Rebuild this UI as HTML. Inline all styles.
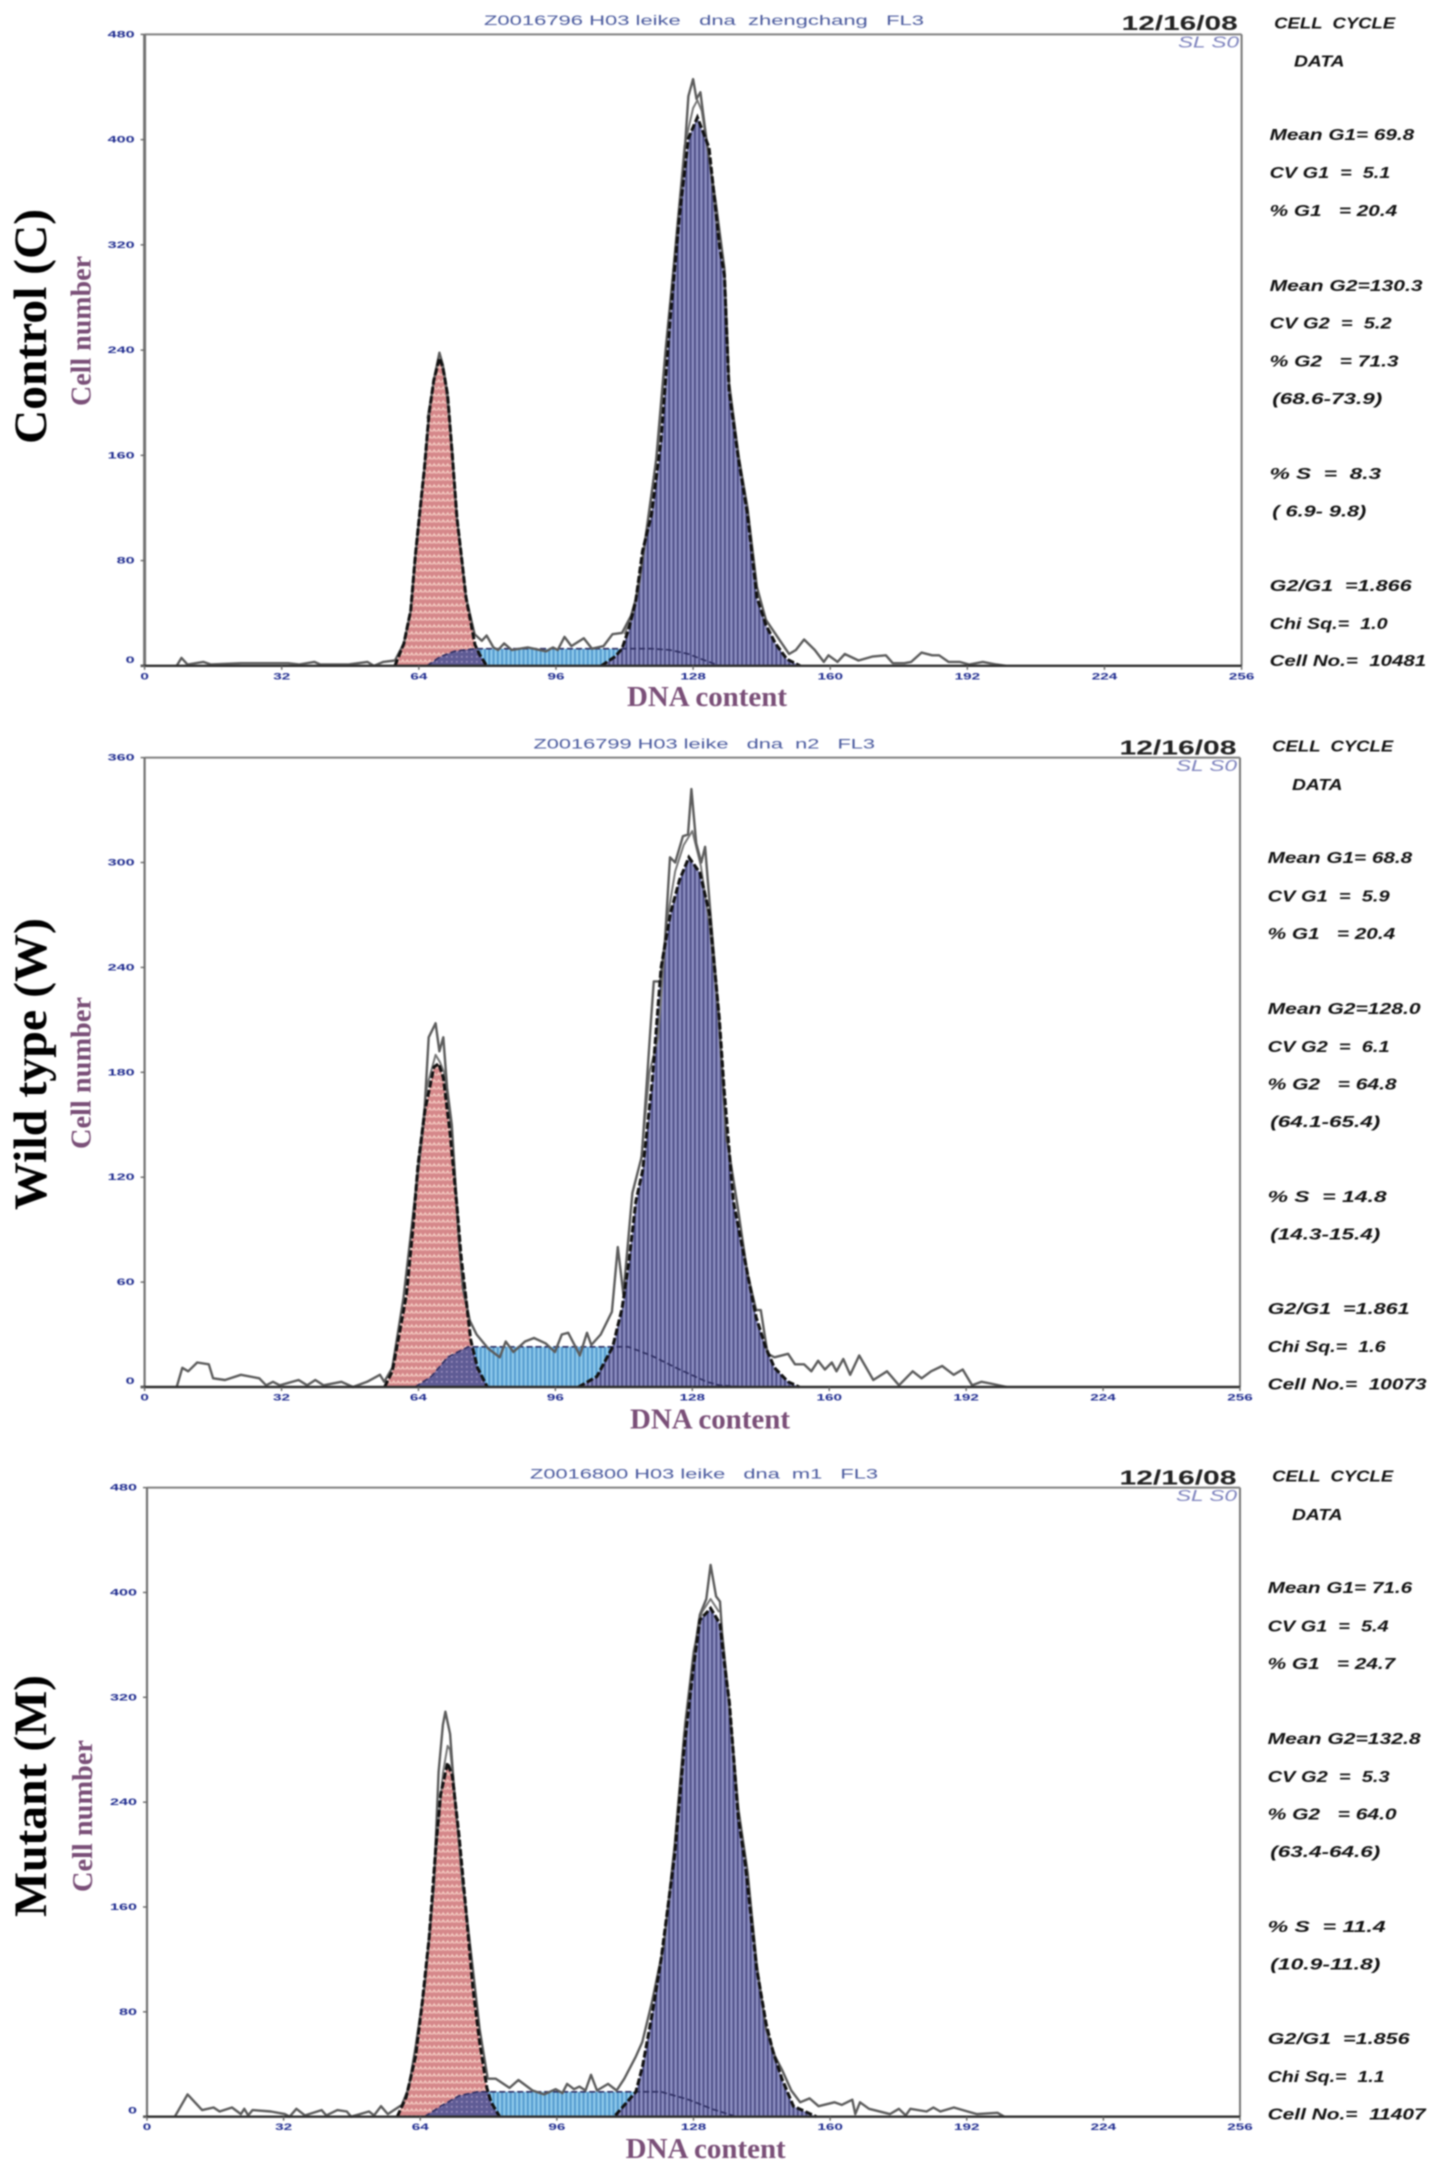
<!DOCTYPE html>
<html lang="en">
<head>
<meta charset="utf-8">
<title>Cell cycle DNA content histograms</title>
<style>
html,body{margin:0;padding:0;background:#fff;}
body{width:1441px;height:2170px;overflow:hidden;}
svg{display:block;filter:blur(0.75px);}
text{white-space:pre;}
.row-label{font:bold 47px "Liberation Serif",serif;fill:#000;text-anchor:middle;}
.axis-title{font:bold 28px "Liberation Serif",serif;fill:#7a4f78;text-anchor:middle;}
.plot-title{font:14px "Liberation Sans",sans-serif;fill:#4a5a9e;}
.date{font:bold 20px "Liberation Sans",sans-serif;fill:#222;}
.gate{font:italic 16px "Liberation Sans",sans-serif;fill:#7d82bd;}
.side{font:italic bold 15.5px "Liberation Sans",sans-serif;fill:#111;}
.tick{font:bold 9px "Liberation Sans",sans-serif;fill:#1e2b8f;}
</style>
</head>
<body>
<svg id="figure" xmlns="http://www.w3.org/2000/svg" width="1441" height="2170" viewBox="0 0 1441 2170">
<defs>
<pattern id="pink-hatch" patternUnits="userSpaceOnUse" width="9" height="7">
<rect width="9" height="7" fill="#d5878a"/>
<path d="M0.5 4.5 L2.2 2 L4 4.5 M5 4.5 L6.7 2 L8.5 4.5" stroke="#f3c9c0" stroke-width="1.5" fill="none"/>
</pattern>
<pattern id="blue-hatch" patternUnits="userSpaceOnUse" width="4.285" height="4">
<rect width="4.285" height="4" fill="#70b5e0"/>
<rect width="1.3" height="4" fill="#4f94ca"/>
<rect x="2.4" width="1.2" height="4" fill="#9dd3f0"/>
</pattern>
<pattern id="purple-hatch" patternUnits="userSpaceOnUse" width="4.285" height="4">
<rect width="4.285" height="4" fill="#7b7db3"/>
<rect width="1.4" height="4" fill="#45467e"/>
<rect x="2.5" width="1" height="4" fill="#9c9ecd"/>
</pattern>
<pattern id="overlap-hatch" patternUnits="userSpaceOnUse" width="5" height="5">
<rect width="5" height="5" fill="#5f5c95"/>
<rect x="1" y="1" width="1.6" height="1.6" fill="#a191c0"/>
</pattern>
</defs>

<g id="panel-control">
<text class="row-label" transform="translate(46,326.5) rotate(-90)" textLength="235" lengthAdjust="spacingAndGlyphs">Control (C)</text>
<text class="axis-title" transform="translate(90.5,331) rotate(-90)" textLength="150" lengthAdjust="spacingAndGlyphs">Cell number</text>
<text class="axis-title" x="707" y="706" textLength="160" lengthAdjust="spacingAndGlyphs">DNA content</text>
<text class="plot-title" x="484" y="25" textLength="440" lengthAdjust="spacingAndGlyphs">Z0016796 H03 leike   dna  zhengchang   FL3</text>
<text class="date" x="1121.7" y="30" textLength="116" lengthAdjust="spacingAndGlyphs">12/16/08</text>
<text class="gate" x="1178" y="47.7" textLength="61" lengthAdjust="spacingAndGlyphs">SL S0</text>
<g class="sidebar">
<text class="side" x="1274.2" y="28.5" textLength="121" lengthAdjust="spacingAndGlyphs">CELL  CYCLE</text>
<text class="side" x="1294" y="66.6" textLength="50.5" lengthAdjust="spacingAndGlyphs">DATA</text>
<text class="side" x="1269.6" y="140" textLength="144.6" lengthAdjust="spacingAndGlyphs">Mean G1= 69.8</text>
<text class="side" x="1269.6" y="178.1" textLength="120.7" lengthAdjust="spacingAndGlyphs">CV G1  =  5.1</text>
<text class="side" x="1269.6" y="215.8" textLength="127.6" lengthAdjust="spacingAndGlyphs">% G1   = 20.4</text>
<text class="side" x="1269.6" y="291" textLength="153" lengthAdjust="spacingAndGlyphs">Mean G2=130.3</text>
<text class="side" x="1269.6" y="328.7" textLength="122" lengthAdjust="spacingAndGlyphs">CV G2  =  5.2</text>
<text class="side" x="1269.6" y="366.4" textLength="129" lengthAdjust="spacingAndGlyphs">% G2   = 71.3</text>
<text class="side" x="1272.3" y="404" textLength="110" lengthAdjust="spacingAndGlyphs">(68.6-73.9)</text>
<text class="side" x="1269.6" y="478.9" textLength="111.6" lengthAdjust="spacingAndGlyphs">% S  =  8.3</text>
<text class="side" x="1272.3" y="516.5" textLength="94" lengthAdjust="spacingAndGlyphs">( 6.9- 9.8)</text>
<text class="side" x="1269.6" y="590.9" textLength="142" lengthAdjust="spacingAndGlyphs">G2/G1  =1.866</text>
<text class="side" x="1269.6" y="629" textLength="118" lengthAdjust="spacingAndGlyphs">Chi Sq.=  1.0</text>
<text class="side" x="1269.6" y="666.2" textLength="156.6" lengthAdjust="spacingAndGlyphs">Cell No.=  10481</text>
</g>
</g>

<g id="panel-wild">
<text class="row-label" transform="translate(46,1064) rotate(-90)" textLength="292" lengthAdjust="spacingAndGlyphs">Wild type (W)</text>
<text class="axis-title" transform="translate(90.5,1073) rotate(-90)" textLength="152" lengthAdjust="spacingAndGlyphs">Cell number</text>
<text class="axis-title" x="710" y="1428.5" textLength="160" lengthAdjust="spacingAndGlyphs">DNA content</text>
<text class="plot-title" x="533.5" y="748.5" textLength="341.5" lengthAdjust="spacingAndGlyphs">Z0016799 H03 leike   dna  n2   FL3</text>
<text class="date" x="1119.5" y="754.4" textLength="117" lengthAdjust="spacingAndGlyphs">12/16/08</text>
<text class="gate" x="1176" y="771" textLength="61" lengthAdjust="spacingAndGlyphs">SL S0</text>
<g transform="translate(-2,723.2)">
<text class="side" x="1274.2" y="28.5" textLength="121" lengthAdjust="spacingAndGlyphs">CELL  CYCLE</text>
<text class="side" x="1294" y="66.6" textLength="50.5" lengthAdjust="spacingAndGlyphs">DATA</text>
<text class="side" x="1269.6" y="140" textLength="144.6" lengthAdjust="spacingAndGlyphs">Mean G1= 68.8</text>
<text class="side" x="1269.6" y="178.1" textLength="122" lengthAdjust="spacingAndGlyphs">CV G1  =  5.9</text>
<text class="side" x="1269.6" y="215.8" textLength="127.6" lengthAdjust="spacingAndGlyphs">% G1   = 20.4</text>
<text class="side" x="1269.6" y="291" textLength="153" lengthAdjust="spacingAndGlyphs">Mean G2=128.0</text>
<text class="side" x="1269.6" y="328.7" textLength="122" lengthAdjust="spacingAndGlyphs">CV G2  =  6.1</text>
<text class="side" x="1269.6" y="366.4" textLength="129" lengthAdjust="spacingAndGlyphs">% G2   = 64.8</text>
<text class="side" x="1272.3" y="404" textLength="110" lengthAdjust="spacingAndGlyphs">(64.1-65.4)</text>
<text class="side" x="1269.6" y="478.9" textLength="119" lengthAdjust="spacingAndGlyphs">% S  = 14.8</text>
<text class="side" x="1272.3" y="516.5" textLength="110" lengthAdjust="spacingAndGlyphs">(14.3-15.4)</text>
<text class="side" x="1269.6" y="590.9" textLength="142" lengthAdjust="spacingAndGlyphs">G2/G1  =1.861</text>
<text class="side" x="1269.6" y="629" textLength="118" lengthAdjust="spacingAndGlyphs">Chi Sq.=  1.6</text>
<text class="side" x="1269.6" y="666.2" textLength="159" lengthAdjust="spacingAndGlyphs">Cell No.=  10073</text>
</g>
</g>

<g id="panel-mutant">
<text class="row-label" transform="translate(46,1796) rotate(-90)" textLength="242" lengthAdjust="spacingAndGlyphs">Mutant (M)</text>
<text class="axis-title" transform="translate(92,1816) rotate(-90)" textLength="152" lengthAdjust="spacingAndGlyphs">Cell number</text>
<text class="axis-title" x="705.7" y="2158" textLength="160" lengthAdjust="spacingAndGlyphs">DNA content</text>
<text class="plot-title" x="530" y="1478.5" textLength="348" lengthAdjust="spacingAndGlyphs">Z0016800 H03 leike   dna  m1   FL3</text>
<text class="date" x="1119.5" y="1484.4" textLength="117" lengthAdjust="spacingAndGlyphs">12/16/08</text>
<text class="gate" x="1176" y="1501" textLength="61" lengthAdjust="spacingAndGlyphs">SL S0</text>
<g transform="translate(-2,1453.2)">
<text class="side" x="1274.2" y="28.5" textLength="121" lengthAdjust="spacingAndGlyphs">CELL  CYCLE</text>
<text class="side" x="1294" y="66.6" textLength="50.5" lengthAdjust="spacingAndGlyphs">DATA</text>
<text class="side" x="1269.6" y="140" textLength="144.6" lengthAdjust="spacingAndGlyphs">Mean G1= 71.6</text>
<text class="side" x="1269.6" y="178.1" textLength="121" lengthAdjust="spacingAndGlyphs">CV G1  =  5.4</text>
<text class="side" x="1269.6" y="215.8" textLength="127.6" lengthAdjust="spacingAndGlyphs">% G1   = 24.7</text>
<text class="side" x="1269.6" y="291" textLength="153" lengthAdjust="spacingAndGlyphs">Mean G2=132.8</text>
<text class="side" x="1269.6" y="328.7" textLength="122" lengthAdjust="spacingAndGlyphs">CV G2  =  5.3</text>
<text class="side" x="1269.6" y="366.4" textLength="129" lengthAdjust="spacingAndGlyphs">% G2   = 64.0</text>
<text class="side" x="1272.3" y="404" textLength="110" lengthAdjust="spacingAndGlyphs">(63.4-64.6)</text>
<text class="side" x="1269.6" y="478.9" textLength="118" lengthAdjust="spacingAndGlyphs">% S  = 11.4</text>
<text class="side" x="1272.3" y="516.5" textLength="110" lengthAdjust="spacingAndGlyphs">(10.9-11.8)</text>
<text class="side" x="1269.6" y="590.9" textLength="142" lengthAdjust="spacingAndGlyphs">G2/G1  =1.856</text>
<text class="side" x="1269.6" y="629" textLength="117" lengthAdjust="spacingAndGlyphs">Chi Sq.=  1.1</text>
<text class="side" x="1269.6" y="666.2" textLength="158" lengthAdjust="spacingAndGlyphs">Cell No.=  11407</text>
</g>
</g>
</svg>

<script>
/* Shared x axis */
const xTickLabels = [0, 32, 64, 96, 128, 160, 192, 224, 256];
const yTickLabelsControl = [0, 80, 160, 240, 320, 400, 480];
const yTickLabelsWild = [0, 60, 120, 180, 240, 300, 360];
const yTickLabelsMutant = [0, 80, 160, 240, 320, 400, 480];

/* Control (C) */
const controlG1Channels = [58.4,60.5,62.1,63.2,64.3,65.3,66.4,67.5,68.8,69.6,70.7,71.8,72.9,73.9,75,76,77.1,78.1,79.8];
const controlG1Counts = [0,17,42,84,119,150,192,217,234,227,206,160,112,84,52,35,16,9,0];
const controlSChannels = [65.9,69,72.3,77,90,110,118.3,122.6,126.9,130,134.2];
const controlSCounts = [0,7,11,13,13,13,13,12,9,5,0];
const controlG2Channels = [106.6,109.8,111.4,113,114.6,116.2,118.3,120.5,122.6,124.8,126.9,129,131.7,134.2,135.3,136.4,138.6,140.7,142.9,145,147.2,149.9,153];
const controlG2Counts = [0,7,13,28,49,87,115,171,262,342,401,417,394,318,297,209,157,115,52,31,17,5,0];
const controlRawChannels = [7.5,8.6,10,13.7,15.5,22.5,24.6,33.5,36,39.6,41,47.6,52,53.5,55.7,58.4,60.5,62.1,63.2,64.3,65.3,66.4,67.5,68.8,69.6,70.7,71.8,72.9,73.9,75,77,78.7,79.8,81.4,82.5,83.9,85.7,89.4,93.7,95.3,96.4,98,99.6,102.5,104.4,107.1,109.2,111.4,113.5,115.1,117.3,119.4,121.6,123.7,125.8,126.9,128,128.8,129.7,131.2,133.3,135.3,136.4,138.6,140.7,142.9,145,148.3,150.4,152,153.9,156.4,158.5,159.6,161.7,163.4,166.6,169.8,173,174.6,177.3,178.9,181.3,183.8,185.4,187.6,190.2,192.4,195.6,198.8,201];
const controlRawCounts = [0,6,1,3,1,2,2,2,1,3,1,1,3,0,3,4,17,42,84,119,150,192,217,238,229,206,160,112,84,52,24,19,23,14,12,17,12,14,11,14,12,22,15,21,13,15,24,25,38,56,105,157,241,311,380,433,446,431,436,398,352,302,215,160,120,60,35,19,9,12,20,12,3,8,3,9,4,7,8,2,2,3,10,8,8,3,3,1,3,1,0];
const controlOverlayG1Channels = [66,68,69,70,72];
const controlOverlayG1Counts = [188,226,232,222,158];
const controlOverlayG2Channels = [112,114,116,118,120,122,124,126,128,129,130,132,134];
const controlOverlayG2Counts = [24,40,78,125,170,250,325,395,424,430,422,380,322];

/* Wild type (W) */
const wildG1Channels = [56.1,57.9,59.5,61.2,62.8,63.9,65.5,67.6,68.7,69.8,71.4,73,74,75.1,76.2,77.8,80.1];
const wildG1Counts = [0,9,30,53,93,127,158,183,185,177,145,103,74,51,27,11,0];
const wildSChannels = [63.2,67,70.8,75.6,90,113,118.4,125,131.4,134.4,140];
const wildSCounts = [0,6,17,23,23,23,18,10,3,1,0];
const wildG2Channels = [101.4,105.7,109.4,111.6,113.2,114.8,116.4,118.6,120.7,122.9,125,127.2,129.8,132,134.3,135.4,137.6,140.8,142.9,145.1,147.2,150.4,153];
const wildG2Counts = [0,6,23,45,72,106,124,174,240,271,290,303,294,271,211,171,106,66,40,23,11,3,0];
const wildRawChannels = [7.5,8.8,10.2,12.3,15,16,18.8,22.5,26.8,28.4,30,31.6,36,38,39.9,41.8,46,48.7,52,55,56,57.9,60.5,63.2,65.3,66.4,68,68.9,69.8,70.7,71.8,73.4,74.4,76,77.6,80.3,83,84.4,86.2,88.9,91,93.7,95.9,97.5,99,100.7,101.7,103.4,104.4,106.6,109.2,110.6,111.9,114,116.2,118.3,119,120.5,121.6,122.8,124,125.8,127,127.8,128.9,130.1,131,132.3,134.2,135.9,138.6,140.8,142.9,144,145.6,147.2,150.4,152,154.1,155.8,157.4,159,160.6,161.7,163.3,164.9,167,170.3,173.5,176.3,179.5,181.6,183.8,186.4,189.1,191.2,193.4,195.6,197.7,201.5];
const wildRawCounts = [0,11,9,14,13,5,4,7,5,1,3,1,4,1,4,1,3,0,3,7,3,11,51,108,153,200,208,192,200,171,150,85,56,38,30,22,17,26,20,26,28,25,20,30,31,23,18,31,24,30,43,80,53,111,132,208,232,232,255,303,300,315,316,342,311,300,309,269,213,145,103,66,44,44,19,17,19,13,13,9,15,10,14,9,16,7,18,4,9,1,9,5,9,12,7,10,1,3,2,0];
const wildOverlayG1Channels = [62,64,66,68,69,70,72,74,76];
const wildOverlayG1Counts = [80,130,172,190,186,180,140,70,36];
const wildOverlayG2Channels = [116,118,120,122,124,126,128,130,132,134,136];
const wildOverlayG2Counts = [130,180,200,265,295,310,318,298,265,215,140];

/* Mutant (M) */
const mutantG1Channels = [58.6,60.7,62.9,64.5,66.1,67.7,68.8,70.4,71.5,73.1,74.7,76.3,77.9,79.6,80.6,82.6];
const mutantG1Counts = [0,15,46,88,137,207,246,270,260,214,158,99,57,22,11,0];
const mutantSChannels = [65,68.8,73.1,77.4,95,115,120.4,126.9,132.2,138];
const mutantSCounts = [0,8,16,19,19,19,19,13,6,0];
const mutantG2Channels = [109.7,114.5,116.1,118.3,120.4,123.6,125.8,127.9,129.5,132,134.2,135.3,136.4,138.5,140.1,142.8,145,146.6,148.7,151.4,156.8];
const mutantG2Counts = [1,19,39,78,120,200,281,341,379,388,376,344,316,228,193,113,71,50,29,8,0];
const mutantRawChannels = [6.5,9.5,12.9,15.6,17,19.9,22,22.8,23.7,24.7,29,32.3,33.4,35,37,40.9,42,44.6,46.8,47.8,52,53.2,54.8,56.4,59.7,61.3,62.9,65,67.2,68.3,69.3,69.9,71,72,74.2,76.3,77.9,79.8,81.7,84.9,87,90.3,93,95.7,97.3,98.4,100,101.3,102.7,104,105.4,108,110,111.8,114.5,116,118.3,121,123.6,125.8,127.9,129.5,131,132,133.3,134.2,134.7,136.4,138.5,140.7,142.8,145,147.1,148.7,150.9,153,155.2,157.3,161,162.7,165.2,165.9,167,169.1,174,176.1,177.7,178.8,182.6,184.2,185.8,189,192.2,194.4,199.2,200.8];
const mutantRawCounts = [0,17,5,7,4,7,2,6,1,5,4,2,0,6,1,5,1,5,4,0,4,1,8,2,9,22,53,99,176,263,299,309,292,246,172,113,67,29,29,22,28,20,17,21,18,25,21,23,20,32,20,25,20,29,46,57,88,130,207,291,348,383,395,421,397,393,369,313,235,186,116,67,46,36,20,11,14,8,11,9,13,2,11,6,2,6,1,6,4,7,4,7,4,2,3,0];
const mutantOverlayG1Channels = [66,68,69.3,70.4,71,72,74];
const mutantOverlayG1Counts = [130,215,262,283,280,250,172];
const mutantOverlayG2Channels = [124,126,128,130,132,134];
const mutantOverlayG2Counts = [215,300,355,385,395,385];

const NS = 'http://www.w3.org/2000/svg';

function add(parent, tag, attrs) {
  const el = document.createElementNS(NS, tag);
  for (const k in attrs) el.setAttribute(k, attrs[k]);
  parent.appendChild(el);
  return el;
}

function pairs(channels, counts, xScale, yScale) {
  return channels.map((c, i) => xScale(c).toFixed(1) + ',' + yScale(counts[i]).toFixed(1));
}

function areaPath(channels, counts, xScale, yScale) {
  const base = yScale(0).toFixed(1);
  return 'M' + xScale(channels[0]).toFixed(1) + ',' + base +
    ' L' + pairs(channels, counts, xScale, yScale).join(' L') +
    ' L' + xScale(channels[channels.length - 1]).toFixed(1) + ',' + base + ' Z';
}

function linePath(channels, counts, xScale, yScale) {
  return 'M' + pairs(channels, counts, xScale, yScale).join(' L');
}

function drawPanel(cfg) {
  const host = document.getElementById(cfg.id);
  const svgRoot = document.getElementById('figure');
  const yMax = cfg.yTicks[cfg.yTicks.length - 1];
  const xMax = xTickLabels[xTickLabels.length - 1];
  const xScale = v => cfg.left + (v / xMax) * (cfg.right - cfg.left);
  const yScale = v => cfg.bottom - (v / yMax) * (cfg.bottom - cfg.top);

  const defs = svgRoot.querySelector('defs');
  const clip = add(defs, 'clipPath', { id: cfg.id + '-g1-clip' });
  add(clip, 'path', { d: areaPath(cfg.g1Ch, cfg.g1, xScale, yScale) });

  const marks = add(host, 'g', {});
  
  

  const sFill = add(marks, 'path', { d: areaPath(cfg.sCh, cfg.s, xScale, yScale), fill: 'url(#blue-hatch)' });
  
  

  const g1Fill = add(marks, 'path', { d: areaPath(cfg.g1Ch, cfg.g1, xScale, yScale), fill: 'url(#pink-hatch)' });
  
  

  const overlap = add(marks, 'path', { d: areaPath(cfg.sCh, cfg.s, xScale, yScale), fill: 'url(#overlap-hatch)', 'clip-path': 'url(#' + cfg.id + '-g1-clip)' });
  
  

  const g2Fill = add(marks, 'path', { d: areaPath(cfg.g2Ch, cfg.g2, xScale, yScale), fill: 'url(#purple-hatch)' });
  
  

  const sLine = add(marks, 'path', { d: linePath(cfg.sCh, cfg.s, xScale, yScale), fill: 'none', stroke: '#2c2c60', 'stroke-width': 1.6, 'stroke-dasharray': '6 3' });
  
  

  const overlayG1 = add(marks, 'path', { d: linePath(cfg.overG1Ch, cfg.overG1, xScale, yScale), fill: 'none', stroke: '#777', 'stroke-width': 2, 'stroke-linejoin': 'round' });
  
  

  const overlayG2 = add(marks, 'path', { d: linePath(cfg.overG2Ch, cfg.overG2, xScale, yScale), fill: 'none', stroke: '#777', 'stroke-width': 2, 'stroke-linejoin': 'round' });
  
  

  const raw = add(marks, 'path', { d: linePath(cfg.rawCh, cfg.raw, xScale, yScale), fill: 'none', stroke: '#5c5c5c', 'stroke-width': 2.4, 'stroke-linejoin': 'round' });
  
  

  const g1Fit = add(marks, 'path', { d: linePath(cfg.g1Ch, cfg.g1, xScale, yScale), fill: 'none', stroke: '#111', 'stroke-width': 3, 'stroke-dasharray': '7 2.5' });
  
  

  const g2Fit = add(marks, 'path', { d: linePath(cfg.g2Ch, cfg.g2, xScale, yScale), fill: 'none', stroke: '#111', 'stroke-width': 3, 'stroke-dasharray': '7 2.5' });
  
  

  const frame = add(host, 'g', {});
  
  
  add(frame, 'line', { x1: cfg.left, y1: cfg.top, x2: cfg.right, y2: cfg.top, stroke: '#808080', 'stroke-width': 2 });
  add(frame, 'line', { x1: cfg.right, y1: cfg.top, x2: cfg.right, y2: cfg.bottom, stroke: '#777', 'stroke-width': 2 });
  add(frame, 'line', { x1: cfg.left, y1: cfg.top, x2: cfg.left, y2: cfg.bottom, stroke: '#727272', 'stroke-width': cfg.leftWidth });
  add(frame, 'line', { x1: cfg.left - 4, y1: cfg.bottom, x2: cfg.right, y2: cfg.bottom, stroke: '#2e2e2e', 'stroke-width': 2.4 });

  cfg.yTicks.forEach(v => {
    const y = yScale(v);
    const mark = add(frame, 'line', { x1: cfg.left - 4, y1: y, x2: cfg.left, y2: y, stroke: '#666', 'stroke-width': 1.4 });
    
    
    const label = add(frame, 'text', {
      class: 'tick', x: cfg.left - 10, y: y + 3 - (v === 0 ? 6 : 0), 'text-anchor': 'end',
      textLength: String(v).length * 9, lengthAdjust: 'spacingAndGlyphs'
    });
    
    
    label.textContent = v;
  });

  xTickLabels.forEach(v => {
    const x = xScale(v);
    const mark = add(frame, 'line', { x1: x, y1: cfg.bottom, x2: x, y2: cfg.bottom + 4, stroke: '#666', 'stroke-width': 1.4 });
    
    
    const label = add(frame, 'text', {
      class: 'tick', x: x, y: cfg.bottom + 13.5, 'text-anchor': 'middle',
      textLength: Math.max(String(v).length * 8.5, 8), lengthAdjust: 'spacingAndGlyphs'
    });
    
    
    label.textContent = v;
  });
}

drawPanel({ id: 'panel-control', left: 144.6, right: 1241.6, top: 34.4, bottom: 665.8, leftWidth: 3,
  yTicks: yTickLabelsControl,
  g1Ch: controlG1Channels, g1: controlG1Counts, sCh: controlSChannels, s: controlSCounts,
  g2Ch: controlG2Channels, g2: controlG2Counts, rawCh: controlRawChannels, raw: controlRawCounts,
  overG1Ch: controlOverlayG1Channels, overG1: controlOverlayG1Counts,
  overG2Ch: controlOverlayG2Channels, overG2: controlOverlayG2Counts });

drawPanel({ id: 'panel-wild', left: 144.6, right: 1240, top: 757.6, bottom: 1387, leftWidth: 2.2,
  yTicks: yTickLabelsWild,
  g1Ch: wildG1Channels, g1: wildG1Counts, sCh: wildSChannels, s: wildSCounts,
  g2Ch: wildG2Channels, g2: wildG2Counts, rawCh: wildRawChannels, raw: wildRawCounts,
  overG1Ch: wildOverlayG1Channels, overG1: wildOverlayG1Counts,
  overG2Ch: wildOverlayG2Channels, overG2: wildOverlayG2Counts });

drawPanel({ id: 'panel-mutant', left: 147, right: 1240, top: 1487.6, bottom: 2116.7, leftWidth: 2.2,
  yTicks: yTickLabelsMutant,
  g1Ch: mutantG1Channels, g1: mutantG1Counts, sCh: mutantSChannels, s: mutantSCounts,
  g2Ch: mutantG2Channels, g2: mutantG2Counts, rawCh: mutantRawChannels, raw: mutantRawCounts,
  overG1Ch: mutantOverlayG1Channels, overG1: mutantOverlayG1Counts,
  overG2Ch: mutantOverlayG2Channels, overG2: mutantOverlayG2Counts });
</script>
</body>
</html>
